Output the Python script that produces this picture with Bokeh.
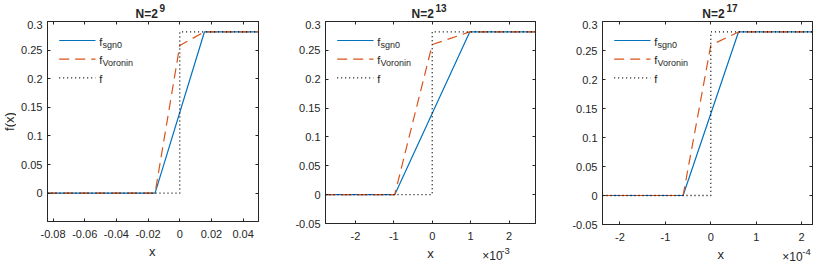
from bokeh.plotting import figure
from bokeh.layouts import row, column
from bokeh.models import (Range1d, FixedTicker, LinearAxis, Label, Arrow,
                          CustomJSTickFormatter)
from bokeh.embed import file_html
from bokeh.resources import INLINE

# ---------------- data ----------------
title_exponents = ["9", "13", "17"]
x_scale_exponents = [None, "-3", "-4"]
x_scales = [1, 1e3, 1e4]

x_limits = [(-0.0835, 0.0497), (-2.78e-3, 2.69e-3), (-2.385e-4, 2.24e-4)]
y_limits = [(-0.0495, 0.3), (-0.05, 0.3), (-0.05, 0.3)]

x_ticks = [[-0.08, -0.06, -0.04, -0.02, 0.0, 0.02, 0.04],
           [-2e-3, -1e-3, 0.0, 1e-3, 2e-3],
           [-2e-4, -1e-4, 0.0, 1e-4, 2e-4]]
y_ticks = [[0.0, 0.05, 0.1, 0.15, 0.2, 0.25, 0.3],
           [-0.05, 0.0, 0.05, 0.1, 0.15, 0.2, 0.25, 0.3],
           [-0.05, 0.0, 0.05, 0.1, 0.15, 0.2, 0.25, 0.3]]

sgn0_x = [[-0.0835, -0.0156, 0.0156, 0.0497],
          [-2.78e-3, -0.977e-3, 0.977e-3, 2.69e-3],
          [-2.385e-4, -0.61e-4, 0.61e-4, 2.24e-4]]
sgn0_y = [[0.0, 0.0, 0.282, 0.282],
          [0.0, 0.0, 0.282, 0.282],
          [0.0, 0.0, 0.282, 0.282]]

voronin_x = [[-0.0835, -0.0156, 0.0, 0.0156, 0.0497],
             [-2.78e-3, -0.977e-3, 0.0, 0.977e-3, 2.69e-3],
             [-2.385e-4, -0.61e-4, 0.0, 0.61e-4, 2.24e-4]]
voronin_y = [[0.0, 0.0, 0.258, 0.282, 0.282],
             [0.0, 0.0, 0.260, 0.282, 0.282],
             [0.0, 0.0, 0.259, 0.282, 0.282]]

f_x = [[-0.0835, 0.0, 0.0, 0.0497],
       [-2.78e-3, 0.0, 0.0, 2.69e-3],
       [-2.385e-4, 0.0, 0.0, 2.24e-4]]
f_y = [[0.0, 0.0, 0.282, 0.282],
       [0.0, 0.0, 0.282, 0.282],
       [0.0, 0.0, 0.282, 0.282]]

legend_main = ["f", "f", "f"]
legend_sub = ["sgn0", "Voronin", ""]
x_label = "x"
y_label = "f(x)"

# ---------------- styling / layout ----------------
FONT = "Liberation Sans"
TXT = "#262626"
AX = "#262626"
BLUE = "#0072BD"
ORANGE = "#D95319"
DASH = "10 6"
DOT = "1 3"
MID = 0.31      # baseline sits this many font-sizes below a "middle" anchor

TOTAL_H = 263
TOP_H = 20      # title strip above each panel
BT = 1          # panel min_border_top
BB = 21         # panel min_border_bottom (tick labels)
FX_W = 16       # strip holding the y label

# (column width, border_left, border_right, frame_height)
geoms = [(275, 31, 33, 200), (278, 34, 34, 202), (245, 33, 2, 203)]


def num_formatter(scale):
    return CustomJSTickFormatter(args=dict(s=scale),
                                 code="return Number((tick*s).toFixed(6)).toString();")


def blank_formatter():
    return CustomJSTickFormatter(code="return '';")


def add_text(p, x, y, text, size, bold=False, align="left", angle=0.0, units="screen"):
    p.add_layout(Label(x=x, y=y, x_units=units, y_units=units, text=text,
                       text_font=FONT, text_font_size=f"{size}px",
                       text_font_style="bold" if bold else "normal",
                       text_color=TXT, text_align=align, text_baseline="middle",
                       angle=angle))


def strip_text(s, x, baseline, text, size, **kw):
    # strips use y measured downward; place the text by its baseline
    add_text(s, x, baseline - MID * size, text, size, units="data", **kw)


def strip(width, height):
    s = figure(width=width, height=height, x_range=Range1d(0, width),
               y_range=Range1d(height, 0), title=None,
               output_backend="svg", toolbar_location=None, tools="",
               x_axis_location=None, y_axis_location=None,
               min_border_left=0, min_border_right=0, min_border_top=0, min_border_bottom=0)
    s.outline_line_color = None
    s.grid.visible = False
    s.background_fill_color = "white"
    s.border_fill_color = "white"
    return s


def panel(i):
    width, bl, br, fh = geoms[i]
    fw = width - bl - br
    p = figure(width=width, height=BT + fh + BB, title=None,
               x_range=Range1d(*x_limits[i]), y_range=Range1d(*y_limits[i]),
               output_backend="svg", toolbar_location=None, tools="",
               min_border_left=bl, min_border_right=br,
               min_border_top=BT, min_border_bottom=BB)
    p.grid.visible = False
    p.outline_line_color = AX
    p.outline_line_width = 1
    p.background_fill_color = "white"
    p.border_fill_color = "white"

    common = dict(major_tick_in=3, major_tick_out=0, minor_tick_in=0, minor_tick_out=0,
                  axis_line_color=AX, major_tick_line_color=AX,
                  major_label_text_font=FONT, major_label_text_font_size="11px",
                  major_label_text_color=TXT)
    xa = p.xaxis[0]
    xa.ticker = FixedTicker(ticks=x_ticks[i])
    xa.formatter = num_formatter(x_scales[i])
    xa.update(major_label_standoff=8, **common)
    ya = p.yaxis[0]
    ya.ticker = FixedTicker(ticks=y_ticks[i])
    ya.formatter = num_formatter(1)
    ya.update(major_label_standoff=5, **common)

    # mirrored ticks (box on)
    for loc, ticks in (("above", x_ticks[i]), ("right", y_ticks[i])):
        ax = LinearAxis(ticker=FixedTicker(ticks=ticks), formatter=blank_formatter(),
                        major_label_standoff=0, major_label_text_font_size="0px",
                        major_tick_in=3, major_tick_out=0, minor_tick_in=0, minor_tick_out=0,
                        axis_line_color=AX, major_tick_line_color=AX)
        p.add_layout(ax, loc)

    # data
    p.line(sgn0_x[i], sgn0_y[i], line_color=BLUE, line_width=1.2)
    p.line(voronin_x[i], voronin_y[i], line_color=ORANGE, line_width=1.2, line_dash=DASH)
    p.line(f_x[i], f_y[i], line_color="black", line_width=1.3, line_dash=DOT)

    # legend (manual, to allow subscripts); screen y measured upward from frame bottom
    styles = [dict(line_color=BLUE, line_width=1.2, line_dash="solid"),
              dict(line_color=ORANGE, line_width=1.2, line_dash=DASH),
              dict(line_color="black", line_width=1.3, line_dash=DOT)]
    for k, st in enumerate(styles):
        ly = fh - 19 - 18.7 * k
        p.add_layout(Arrow(end=None, start=None, x_start=11.7, y_start=ly, x_end=48, y_end=ly,
                           start_units="screen", end_units="screen", **st))
        add_text(p, 51.7, ly - 4.5 + MID * 11, legend_main[k], 11)
        if legend_sub[k]:
            add_text(p, 55.0, ly - 6.8 + MID * 9, legend_sub[k], 9)

    # ---- title strip above the panel
    top = strip(width, TOP_H)
    cx = bl + fw / 2
    sup_w = 5.56 * len(title_exponents[i])
    total = 22.3 + 2 + sup_w
    boundary = cx - total / 2 + 22.3
    strip_text(top, boundary, 17.5, "N=2", 12, bold=True, align="right")
    strip_text(top, boundary + 2, 10.6, title_exponents[i], 10, bold=True, align="left")

    # ---- strip below: y measured from its top, which is BB below the frame bottom
    bot_h = TOTAL_H - TOP_H - (BT + fh + BB)
    bot = strip(width, bot_h)
    strip_text(bot, cx, 34 - BB, x_label, 13, align="center")
    if x_scale_exponents[i]:
        right = bl + fw
        strip_text(bot, right, 30.5 - BB, x_scale_exponents[i], 9.5, align="right")
        strip_text(bot, right - 9.5, 36 - BB, "\u00d710", 12, align="right")
    return column(top, p, bot)


cols = [panel(i) for i in range(3)]

# y label strip, centred on the first frame
fx = strip(FX_W, TOTAL_H)
add_text(fx, 8.5, TOP_H + BT + geoms[0][3] / 2, y_label, 13, align="center",
         angle=1.5707963, units="data")

layout = row(fx, *cols)
open("out.html", "w").write(file_html(layout, INLINE))
